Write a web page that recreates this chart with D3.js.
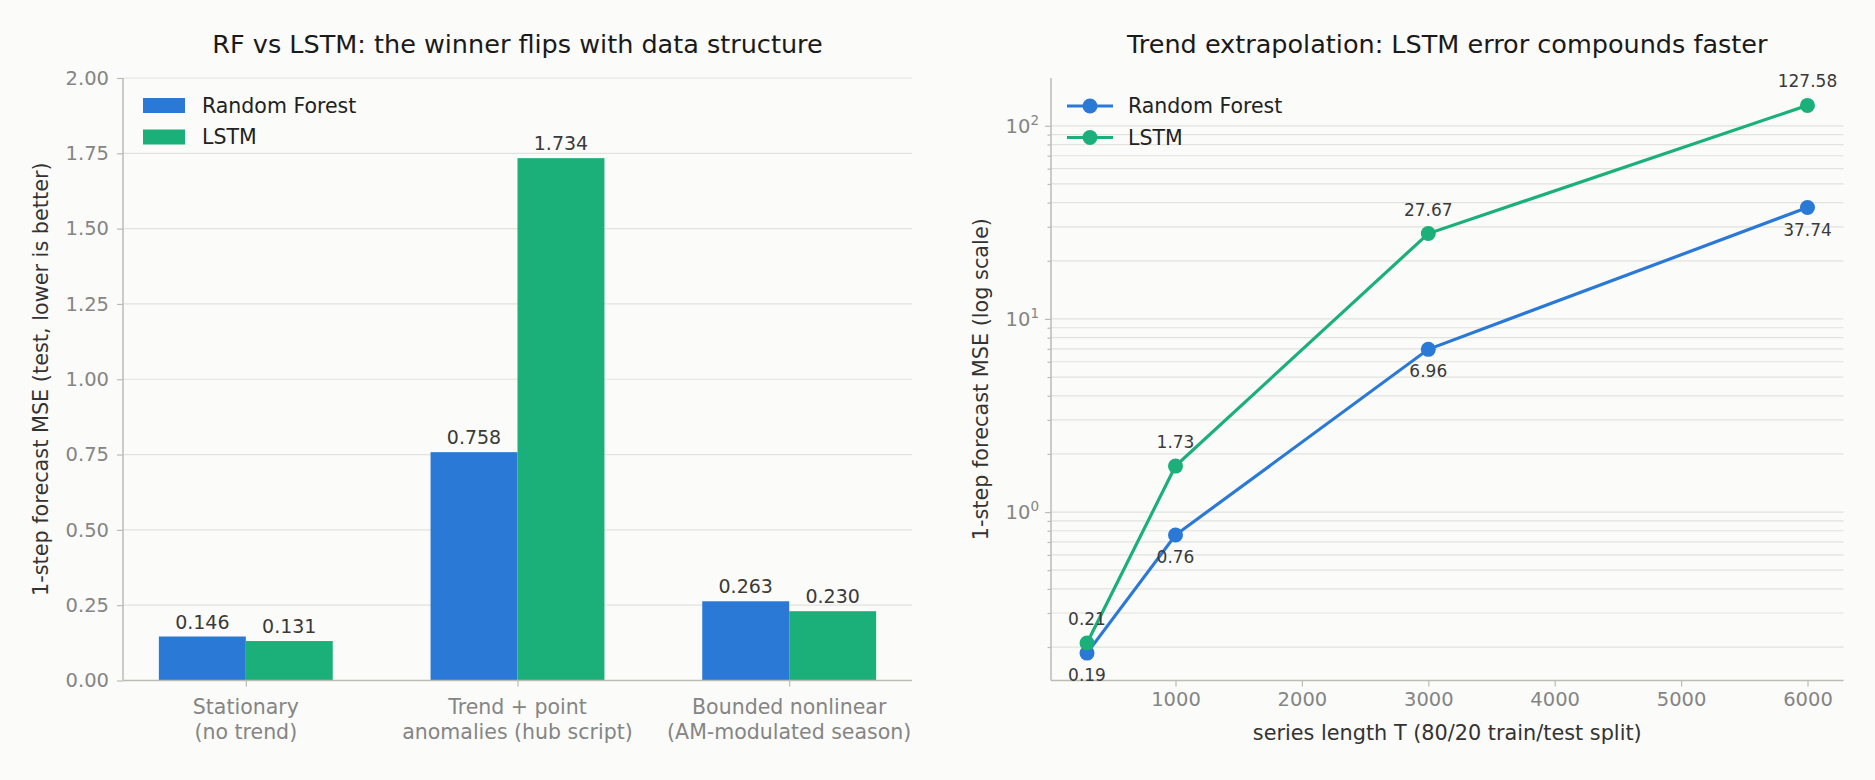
<!DOCTYPE html>
<html>
<head>
<meta charset="utf-8">
<script src="https://cdn.jsdelivr.net/npm/d3@7"></script>
<style>
  body { margin: 0; background: #fbfbf9; }
  svg { display: block; font-family: "DejaVu Sans", sans-serif; }
</style>
</head>
<body>
<svg id="chart" width="1875" height="780"></svg>
<script>
// left panel: bar chart
const categories = ["Stationary\n(no trend)", "Trend + point\nanomalies (hub script)", "Bounded nonlinear\n(AM-modulated season)"];
const rfBars = [0.146, 0.758, 0.263];
const lstmBars = [0.131, 1.734, 0.230];
const barTicks = [0, 0.25, 0.5, 0.75, 1.0, 1.25, 1.5, 1.75, 2.0];

// right panel: log-scale lines
const lengths = [300, 1000, 3000, 6000];
const rfLine = [0.186, 0.76, 6.96, 37.74];
const lstmLine = [0.21, 1.73, 27.67, 127.58];
const lengthTicks = [1000, 2000, 3000, 4000, 5000, 6000];

const blue = "#2a79d6", green = "#1bb07a";
const gridCol = "#e2e2de", spineCol = "#bcbcb4", tickCol = "#858585";
const tickFs = 19.5, labelFs = 20.8, legendFs = 20.5, titleFs = 25.5;

const svg = d3.select("#chart");
svg.append("rect").attr("width", 1875).attr("height", 780).attr("fill", "#fbfbf9");

// ---------- left chart ----------
const L = { left: 123, right: 912, top: 78, bottom: 680.5 };
const xL = d3.scaleLinear().domain([-0.452, 2.452]).range([L.left, L.right]);
const yL = d3.scaleLinear().domain([0, 2]).range([L.bottom, L.top]);
const bw = 0.32;

const gL = svg.append("g");
gL.selectAll("line.grid").data(barTicks).enter().append("line")
  .attr("x1", L.left).attr("x2", L.right)
  .attr("y1", d => yL(d)).attr("y2", d => yL(d))
  .attr("stroke", gridCol).attr("stroke-width", 1.2);

const series = [
  { name: "Random Forest", vals: rfBars, color: blue, off: -bw },
  { name: "LSTM", vals: lstmBars, color: green, off: 0 }
];
series.forEach(s => {
  gL.selectAll(null).data(s.vals).enter().append("rect")
    .attr("x", (d, i) => xL(i + s.off))
    .attr("width", xL(bw) - xL(0))
    .attr("y", d => yL(d))
    .attr("height", d => yL(0) - yL(d))
    .attr("fill", s.color);
  gL.selectAll(null).data(s.vals).enter().append("text")
    .attr("x", (d, i) => xL(i + s.off + bw / 2))
    .attr("y", d => yL(d) - 8)
    .attr("text-anchor", "middle")
    .attr("font-size", 19).attr("fill", "#3a3a3a")
    .text(d => d.toFixed(3));
});

const yAxisL = gL.append("g").attr("transform", `translate(${L.left},0)`)
  .call(d3.axisLeft(yL).tickValues(barTicks).tickFormat(d3.format(".2f")).tickSize(6).tickPadding(8));
const xAxisL = gL.append("g").attr("transform", `translate(0,${L.bottom})`)
  .call(d3.axisBottom(xL).tickValues([0, 1, 2]).tickFormat("").tickSize(6));
[yAxisL, xAxisL].forEach(a => {
  a.select(".domain").attr("stroke", spineCol).attr("stroke-width", 1.5);
  a.selectAll(".tick line").attr("stroke", spineCol).attr("stroke-width", 1.2);
  a.selectAll(".tick text").attr("font-size", tickFs).attr("fill", tickCol).attr("font-family", "DejaVu Sans");
});
xAxisL.select(".domain").attr("d", `M${L.left},0H${L.right}`);
yAxisL.select(".domain").attr("d", `M0,${L.bottom}V${L.top}`);

categories.forEach((c, i) => {
  const t = gL.append("text").attr("text-anchor", "middle")
    .attr("font-size", 20.5).attr("fill", tickCol);
  c.split("\n").forEach((ln, j) => {
    t.append("tspan").attr("x", xL(i)).attr("y", 713.5 + j * 25).text(ln);
  });
});

gL.append("text").attr("transform", `translate(48,${(L.top + L.bottom) / 2}) rotate(-90)`)
  .attr("text-anchor", "middle").attr("font-size", labelFs).attr("fill", "#333")
  .text("1-step forecast MSE (test, lower is better)");
gL.append("text").attr("x", (L.left + L.right) / 2).attr("y", 53)
  .attr("text-anchor", "middle").attr("font-size", titleFs).attr("fill", "#1a1a1a")
  .text("RF vs LSTM: the winner flips with data structure");

series.forEach((s, i) => {
  gL.append("rect").attr("x", 143).attr("y", 98 + i * 31.5).attr("width", 42).attr("height", 15).attr("fill", s.color);
  gL.append("text").attr("x", 202).attr("y", 112.5 + i * 31.5).attr("font-size", legendFs).attr("fill", "#222").text(s.name);
});

// ---------- right chart ----------
const R = { left: 1051, right: 1843.5, top: 78, bottom: 680.5 };
const xR = d3.scaleLinear().domain([15, 6285]).range([R.left, R.right]);
const allVals = rfLine.concat(lstmLine);
const lo = Math.log10(d3.min(allVals)), hi = Math.log10(d3.max(allVals));
const pad = (hi - lo) * 0.05;
const yR = d3.scaleLog().domain([Math.pow(10, lo - pad), Math.pow(10, hi + pad)]).range([R.bottom, R.top]);

const gR = svg.append("g");
const minorTicks = [];
for (let e = -1; e <= 2; e++) for (let m = 1; m <= 9; m++) {
  const v = m * Math.pow(10, e);
  if (v >= yR.domain()[0] && v <= yR.domain()[1]) minorTicks.push(v);
}
gR.selectAll(null).data(minorTicks).enter().append("line")
  .attr("x1", R.left).attr("x2", R.right)
  .attr("y1", d => yR(d)).attr("y2", d => yR(d))
  .attr("stroke", gridCol).attr("stroke-width", 1.2);

const majors = [1, 10, 100];
const yAxisR = gR.append("g").attr("transform", `translate(${R.left},0)`)
  .call(d3.axisLeft(yR).tickValues(minorTicks).tickFormat("").tickSize(3.5));
yAxisR.selectAll(".tick").filter(d => majors.includes(d)).select("line").attr("x2", -6);
const xAxisR = gR.append("g").attr("transform", `translate(0,${R.bottom})`)
  .call(d3.axisBottom(xR).tickValues(lengthTicks).tickFormat(d3.format("d")).tickSize(6).tickPadding(6));
[yAxisR, xAxisR].forEach(a => {
  a.select(".domain").attr("stroke", spineCol).attr("stroke-width", 1.5);
  a.selectAll(".tick line").attr("stroke", spineCol).attr("stroke-width", 1.2);
  a.selectAll(".tick text").attr("font-size", tickFs).attr("fill", tickCol).attr("font-family", "DejaVu Sans");
});
xAxisR.select(".domain").attr("d", `M${R.left},0H${R.right}`);
yAxisR.select(".domain").attr("d", `M0,${R.bottom}V${R.top}`);

majors.forEach(v => {
  const t = gR.append("text").attr("x", R.left - 12).attr("y", yR(v) + 7)
    .attr("text-anchor", "end").attr("font-size", tickFs).attr("fill", tickCol);
  t.append("tspan").text("10");
  t.append("tspan").attr("dy", -8).attr("font-size", 13.5).text(Math.round(Math.log10(v)));
});

const lines = [
  { name: "Random Forest", vals: rfLine, color: blue, above: false },
  { name: "LSTM", vals: lstmLine, color: green, above: true }
];
const lineGen = d3.line().x(d => xR(d[0])).y(d => yR(d[1]));
lines.forEach(s => {
  const pts = lengths.map((x, i) => [x, s.vals[i]]);
  gR.append("path").attr("d", lineGen(pts)).attr("fill", "none")
    .attr("stroke", s.color).attr("stroke-width", 3.2);
  gR.selectAll(null).data(pts).enter().append("circle")
    .attr("cx", d => xR(d[0])).attr("cy", d => yR(d[1])).attr("r", 7.5).attr("fill", s.color);
  gR.selectAll(null).data(pts).enter().append("text")
    .attr("x", d => xR(d[0])).attr("y", d => yR(d[1]) + (s.above ? -18 : 28))
    .attr("text-anchor", "middle").attr("font-size", 17).attr("fill", "#3a3a3a")
    .text(d => d[1].toFixed(2));
});

gR.append("text").attr("transform", `translate(988,${(R.top + R.bottom) / 2}) rotate(-90)`)
  .attr("text-anchor", "middle").attr("font-size", labelFs).attr("fill", "#333")
  .text("1-step forecast MSE (log scale)");
gR.append("text").attr("x", (R.left + R.right) / 2).attr("y", 740)
  .attr("text-anchor", "middle").attr("font-size", labelFs).attr("fill", "#333")
  .text("series length T (80/20 train/test split)");
gR.append("text").attr("x", (R.left + R.right) / 2).attr("y", 53)
  .attr("text-anchor", "middle").attr("font-size", titleFs).attr("fill", "#1a1a1a")
  .text("Trend extrapolation: LSTM error compounds faster");

lines.forEach((s, i) => {
  const y = 106 + i * 31.5;
  gR.append("line").attr("x1", 1067).attr("x2", 1113).attr("y1", y).attr("y2", y)
    .attr("stroke", s.color).attr("stroke-width", 3.2);
  gR.append("circle").attr("cx", 1090).attr("cy", y).attr("r", 7.5).attr("fill", s.color);
  gR.append("text").attr("x", 1128).attr("y", y + 7).attr("font-size", legendFs).attr("fill", "#222").text(s.name);
});
</script>
</body>
</html>
